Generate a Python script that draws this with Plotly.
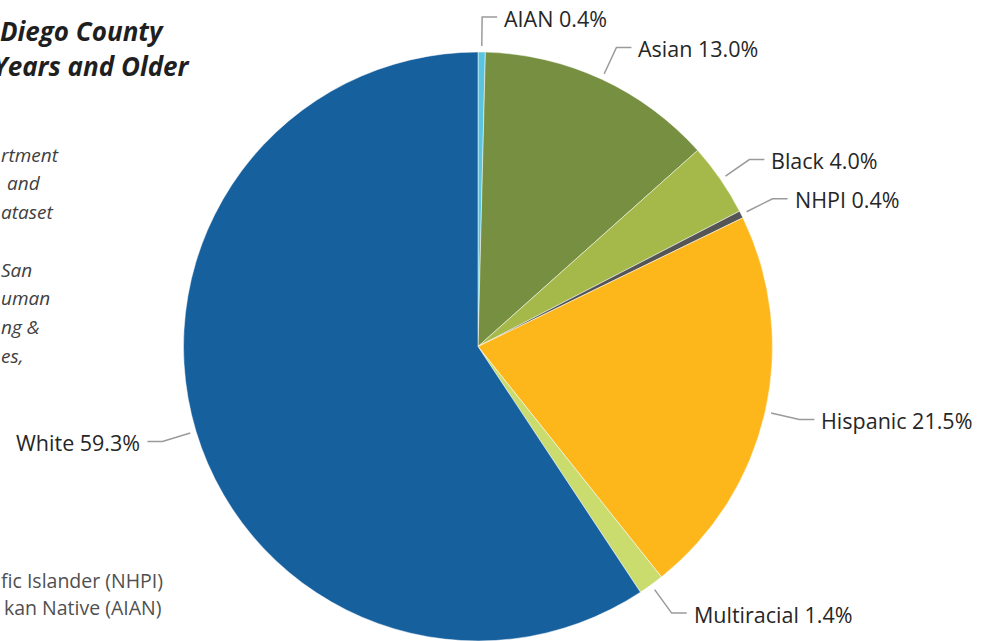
import math
import plotly.graph_objects as go

# ---- data ----
groups = ["AIAN", "Asian", "Black", "NHPI", "Hispanic", "Multiracial", "White"]
shares = [0.4, 13.0, 4.0, 0.4, 21.5, 1.4, 59.3]
colors = ["#5BC5DF", "#778F40", "#A5B94A", "#555555", "#FDB71A", "#C9DC6D", "#17609E"]

title_lines = ["Diego County", "Years and Older"]
note_lines = ["rtment", "and", "ataset", "", "San", "uman", "ng &", "es,"]
footer_lines = ["fic Islander (NHPI)", "kan Native (AIAN)"]

W, H = 984, 641
# pie placement (layout)
dom_x = [183 / W, 773 / W]
dom_y = [0.0, 1 - 52 / H]
cx = (dom_x[0] + dom_x[1]) / 2 * W
cy = H - (dom_y[0] + dom_y[1]) / 2 * H
rad = min((dom_x[1] - dom_x[0]) * W, (dom_y[1] - dom_y[0]) * H) / 2

fig = go.Figure(go.Pie(
    labels=groups, values=shares, sort=False, direction="clockwise", rotation=0,
    marker=dict(colors=colors, line=dict(color="white", width=0.5)),
    textinfo="none", hoverinfo="label+percent", showlegend=False,
    domain=dict(x=dom_x, y=dom_y),
))

def px(x):
    return x / W

def py(y):
    return 1 - y / H

shapes = []
annotations = []
total = sum(shares)
cum = 0.0
r1, r2, hlen, gap = rad + 6, rad + 35, 15, 5
for g, v in zip(groups, shares):
    mid = (cum + v / 2) / total * 2 * math.pi
    cum += v
    s, c = math.sin(mid), math.cos(mid)
    x1, y1 = cx + r1 * s, cy - r1 * c
    x2, y2 = cx + r2 * s, cy - r2 * c
    d = 1 if s >= 0 else -1
    x3 = x2 + d * hlen
    shapes.append(dict(
        type="path", xref="paper", yref="paper",
        path=f"M {px(x1)} {py(y1)} L {px(x2)} {py(y2)} L {px(x3)} {py(y2)}",
        line=dict(color="#9A9A9A", width=1.5),
    ))
    annotations.append(dict(
        x=px(x3 + d * gap), y=py(y2 + 1), xref="paper", yref="paper",
        text=f"{g} {v:.1f}%", showarrow=False,
        xanchor="left" if d > 0 else "right", yanchor="middle",
        font=dict(family="Open Sans", size=21.5, color="#262626"),
    ))

# title fragments (start at the left edge)
for txt, xl, yc in zip(title_lines, [-2, -9], [31, 66]):
    annotations.append(dict(
        x=px(xl), y=py(yc), xref="paper", yref="paper", text=f"<b><i>{txt}</i></b>",
        showarrow=False, xanchor="left", yanchor="middle",
        font=dict(family="Open Sans", size=26, color="#1F1F1F"),
    ))

note_left = [-1, 5, -1, 0, -1, -1, -1, -1]
note_y = [155, 183, 212, 241, 270, 298, 327, 356]
for txt, xl, yc in zip(note_lines, note_left, note_y):
    if not txt:
        continue
    annotations.append(dict(
        x=px(xl), y=py(yc), xref="paper", yref="paper", text=f"<i>{txt}</i>",
        showarrow=False, xanchor="left", yanchor="middle",
        font=dict(family="Open Sans", size=19, color="#404040"),
    ))

for txt, xl, yc in zip(footer_lines, [-1, 2], [580, 607]):
    annotations.append(dict(
        x=px(xl), y=py(yc), xref="paper", yref="paper", text=txt,
        showarrow=False, xanchor="left", yanchor="middle",
        font=dict(family="Open Sans", size=19.5, color="#505050"),
    ))

fig.update_layout(
    width=W, height=H,
    margin=dict(l=0, r=0, t=0, b=0),
    paper_bgcolor="white", plot_bgcolor="white",
    shapes=shapes, annotations=annotations,
)
fig.write_html("out.html", config={"displayModeBar": False},
               post_script="document.body.style.margin='0';")
